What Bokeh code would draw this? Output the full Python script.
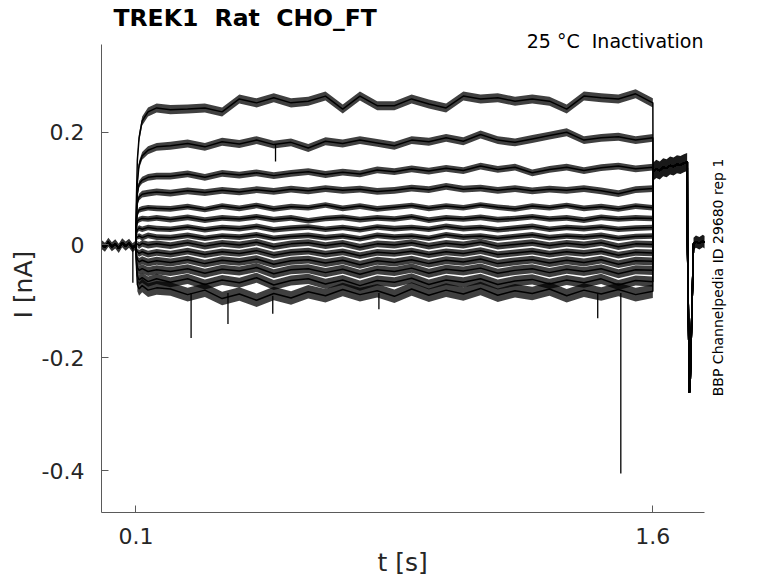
import numpy as np
from bokeh.plotting import figure
from bokeh.models import Label, FixedTicker, Range1d, Title
from bokeh.embed import file_html
from bokeh.resources import INLINE

# ---------------- data ----------------
# holding period before the pulse (all sweeps overlap)
base_t = [0.0, 0.01, 0.02, 0.03, 0.04, 0.05, 0.06, 0.07, 0.08, 0.09, 0.0995]
base_v = [0.001, -0.004, 0.005, -0.003, 0.002, -0.006, 0.004, -0.002, 0.003, -0.005, 0.0]
base_noise = 0.008

# pulse period sample times [s]
pulse_t = [0.1005, 0.104, 0.109, 0.118, 0.135, 0.16,
           0.2, 0.25, 0.3, 0.35, 0.4, 0.45, 0.5, 0.55, 0.6, 0.65, 0.7, 0.75,
           0.8, 0.85, 0.9, 0.95, 1.0, 1.05, 1.1, 1.15, 1.2, 1.25, 1.3, 1.35,
           1.4, 1.45, 1.5, 1.55, 1.6]

# current of each sweep during the pulse [nA]
sweep_01 = [0.06, 0.15, 0.19, 0.22, 0.236, 0.243,
            0.240, 0.241, 0.243, 0.236, 0.259, 0.252, 0.261, 0.252, 0.255, 0.264, 0.241, 0.264,
            0.247, 0.247, 0.259, 0.250, 0.243, 0.264, 0.259, 0.261, 0.255, 0.259, 0.255, 0.241,
            0.264, 0.261, 0.259, 0.268, 0.252]
sweep_02 = [0.04, 0.11, 0.142, 0.158, 0.168, 0.174,
            0.176, 0.180, 0.174, 0.183, 0.179, 0.186, 0.178, 0.182, 0.172, 0.184, 0.180, 0.186,
            0.181, 0.176, 0.186, 0.183, 0.190, 0.184, 0.196, 0.186, 0.182, 0.188, 0.194, 0.200,
            0.186, 0.190, 0.192, 0.186, 0.190]
sweep_03 = [0.03, 0.09, 0.108, 0.115, 0.120, 0.122,
            0.122, 0.126, 0.120, 0.127, 0.124, 0.128, 0.123, 0.127, 0.130, 0.125, 0.129, 0.126,
            0.133, 0.130, 0.135, 0.131, 0.136, 0.132, 0.140, 0.134, 0.138, 0.128, 0.134, 0.138,
            0.132, 0.137, 0.140, 0.135, 0.138]
sweep_04 = [0.03, 0.075, 0.085, 0.090, 0.092, 0.094,
            0.092, 0.096, 0.093, 0.097, 0.094, 0.098, 0.095, 0.099, 0.096, 0.100, 0.097, 0.099,
            0.095, 0.097, 0.101, 0.098, 0.104, 0.099, 0.101, 0.097, 0.100, 0.096, 0.099, 0.097,
            0.100, 0.096, 0.091, 0.098, 0.100]
sweep_05 = [0.03, 0.055, 0.062, 0.064, 0.066, 0.065,
            0.064, 0.068, 0.063, 0.069, 0.065, 0.070, 0.064, 0.068, 0.066, 0.071, 0.065, 0.069,
            0.064, 0.067, 0.070, 0.065, 0.069, 0.066, 0.071, 0.067, 0.064, 0.069, 0.066, 0.070,
            0.065, 0.068, 0.064, 0.069, 0.066]
sweep_06 = [0.02, 0.042, 0.045, 0.047, 0.046, 0.048,
            0.045, 0.049, 0.044, 0.048, 0.046, 0.050, 0.045, 0.048, 0.043, 0.047, 0.049, 0.045,
            0.048, 0.046, 0.050, 0.044, 0.048, 0.046, 0.049, 0.045, 0.047, 0.050, 0.046, 0.048,
            0.044, 0.049, 0.046, 0.048, 0.047]
sweep_07 = [0.015, 0.027, 0.030, 0.028, 0.031, 0.029,
            0.028, 0.032, 0.027, 0.031, 0.029, 0.033, 0.027, 0.030, 0.032, 0.028, 0.031, 0.027,
            0.032, 0.029, 0.031, 0.028, 0.033, 0.029, 0.031, 0.027, 0.030, 0.033, 0.028, 0.031,
            0.029, 0.032, 0.028, 0.030, 0.031]
sweep_08 = [0.01, 0.014, 0.016, 0.013, 0.017, 0.014,
            0.013, 0.017, 0.012, 0.016, 0.014, 0.018, 0.012, 0.015, 0.017, 0.013, 0.016, 0.011,
            0.017, 0.014, 0.016, 0.012, 0.018, 0.014, 0.016, 0.012, 0.015, 0.018, 0.013, 0.016,
            0.014, 0.017, 0.012, 0.015, 0.016]
sweep_09 = [0.0, 0.002, -0.001, 0.003, 0.0, 0.002,
            -0.001, 0.004, -0.002, 0.003, 0.000, 0.005, -0.003, 0.002, 0.004, -0.001, 0.003, -0.004,
            0.002, 0.000, 0.004, -0.002, 0.003, 0.000, 0.005, -0.002, 0.001, 0.004, -0.001, 0.003,
            0.000, 0.004, -0.003, 0.002, 0.001]
sweep_10 = [-0.005, -0.012, -0.015, -0.012, -0.016, -0.013,
            -0.016, -0.011, -0.017, -0.012, -0.015, -0.010, -0.018, -0.013, -0.011, -0.016, -0.012, -0.019,
            -0.013, -0.015, -0.011, -0.017, -0.012, -0.015, -0.010, -0.017, -0.014, -0.011, -0.016, -0.012,
            -0.015, -0.011, -0.018, -0.013, -0.014]
sweep_11 = [-0.01, -0.026, -0.030, -0.027, -0.031, -0.028,
            -0.031, -0.026, -0.033, -0.027, -0.030, -0.025, -0.034, -0.028, -0.026, -0.032, -0.027, -0.035,
            -0.028, -0.031, -0.026, -0.033, -0.027, -0.030, -0.025, -0.033, -0.029, -0.026, -0.032, -0.027,
            -0.031, -0.026, -0.034, -0.028, -0.029]
sweep_12 = [-0.015, -0.040, -0.045, -0.042, -0.047, -0.044,
            -0.047, -0.042, -0.050, -0.043, -0.046, -0.040, -0.051, -0.044, -0.042, -0.049, -0.043, -0.052,
            -0.044, -0.047, -0.041, -0.050, -0.043, -0.046, -0.041, -0.050, -0.045, -0.042, -0.049, -0.043,
            -0.047, -0.042, -0.051, -0.044, -0.045]
sweep_13 = [-0.02, -0.055, -0.062, -0.058, -0.065, -0.060,
            -0.066, -0.060, -0.070, -0.062, -0.067, -0.058, -0.071, -0.063, -0.060, -0.069, -0.062, -0.072,
            -0.063, -0.066, -0.059, -0.070, -0.062, -0.066, -0.060, -0.070, -0.064, -0.061, -0.069, -0.062,
            -0.067, -0.060, -0.071, -0.063, -0.065]
sweep_14 = [-0.025, -0.070, -0.078, -0.072, -0.080, -0.076,
            -0.078, -0.088, -0.080, -0.095, -0.087, -0.098, -0.086, -0.094, -0.083, -0.090, -0.079, -0.088,
            -0.081, -0.091, -0.078, -0.089, -0.080, -0.087, -0.077, -0.089, -0.081, -0.086, -0.078, -0.090,
            -0.080, -0.087, -0.079, -0.088, -0.082]
sweeps = [sweep_01, sweep_02, sweep_03, sweep_04, sweep_05, sweep_06, sweep_07,
          sweep_08, sweep_09, sweep_10, sweep_11, sweep_12, sweep_13, sweep_14]
# half-width of the noise band of each sweep [nA]
sweep_noise = [0.008, 0.007, 0.006, 0.006, 0.005, 0.005, 0.005,
               0.005, 0.006, 0.006, 0.007, 0.008, 0.009, 0.012]

# test step after the pulse (all sweeps overlap)
tail_t = [1.6005, 1.61, 1.62, 1.63, 1.64, 1.65, 1.66, 1.67, 1.68, 1.69, 1.6995]
tail_v = [0.130, 0.135, 0.132, 0.138, 0.136, 0.141, 0.139, 0.143, 0.142, 0.145, 0.147]
tail_noise = 0.016

# return to holding with capacitive transient
post_t = [1.700, 1.7005, 1.706, 1.708, 1.718, 1.725, 1.735, 1.745, 1.75]
post_v = [0.147, 0.004, -0.262, -0.252, 0.002, 0.006, 0.003, 0.007, 0.005]
post_noise = 0.011

# brief spikes (time, from, to) [s, nA, nA]
spike_t = [0.091, 0.260, 0.367, 0.497, 0.505, 0.805, 1.440, 1.507]
spike_from = [0.0, -0.085, -0.085, -0.090, 0.178, -0.085, -0.085, -0.085]
spike_to = [-0.067, -0.165, -0.140, -0.122, 0.148, -0.114, -0.130, -0.405]

x_ticks = [0.1, 1.6]
x_tick_labels = ["0.1", "1.6"]
y_ticks = [-0.4, -0.2, 0.0, 0.2]
y_tick_labels = ["-0.4", "-0.2", "0", "0.2"]
x_extent = (0.0, 1.75)
y_extent = (-0.4743, 0.3555)

title_text = "TREK1\u00a0 Rat\u00a0 CHO_FT"
subtitle_text = "25 °C\u00a0 Inactivation"
side_text = "BBP Channelpedia ID 29680 rep 1"
x_label = "t [s]"
y_label = "I [nA]"

# ---------------- figure ----------------
FONT = "DejaVu Sans"
TXT = "#262626"
AX = "#5a5a5a"

# frame spans up to the top/right edges so the texts there can sit inside it;
# the axis lines are limited to the data extent with `bounds`
p = figure(width=778, height=583,
           x_range=Range1d(0.0, 1.9646), y_range=Range1d(-0.4743, 0.4335),
           output_backend="svg", toolbar_location=None,
           min_border_left=101, min_border_right=0,
           min_border_top=0, min_border_bottom=71)
p.title.visible = False
p.outline_line_color = None
p.background_fill_color = "white"
p.border_fill_color = "white"
p.xgrid.visible = False
p.ygrid.visible = False

for ax, ticks, labels, ext in ((p.xaxis[0], x_ticks, x_tick_labels, x_extent),
                               (p.yaxis[0], y_ticks, y_tick_labels, y_extent)):
    ax.ticker = FixedTicker(ticks=ticks)
    ax.major_label_overrides = {t: l for t, l in zip(ticks, labels)}
    ax.bounds = ext
    ax.minor_tick_line_color = None
    ax.major_tick_in = 7
    ax.major_tick_out = 0
    ax.axis_line_color = AX
    ax.major_tick_line_color = AX
    ax.major_label_text_font = FONT
    ax.major_label_text_font_size = "22px"
    ax.major_label_text_color = TXT
p.xaxis[0].major_label_standoff = 15
p.yaxis[0].major_label_standoff = 17

# axis titles placed along the axes (centred on the data extent, not the frame)
p.add_layout(Title(text=x_label, align="left", offset=276, standoff=0,
                   vertical_align="middle", text_font=FONT, text_font_size="25px",
                   text_font_style="normal", text_color=TXT), "below")
p.add_layout(Title(text=y_label, align="left", offset=194, standoff=0,
                   vertical_align="middle", text_font=FONT, text_font_size="25px",
                   text_font_style="normal", text_color=TXT), "left")

ink = "black"
bt = np.array(base_t); bv = np.array(base_v)
p.varea(x=bt, y1=bv - base_noise, y2=bv + base_noise, fill_color=ink, fill_alpha=0.8)
tt = np.array(tail_t); tv = np.array(tail_v)
p.varea(x=tt, y1=tv - tail_noise, y2=tv + tail_noise, fill_color=ink, fill_alpha=0.9)
qt = np.array(post_t)[4:]; qv = np.array(post_v)[4:]
p.varea(x=qt, y1=qv - post_noise, y2=qv + post_noise, fill_color=ink, fill_alpha=0.9)

ptime = np.array(pulse_t)
for s, nz in zip(sweeps, sweep_noise):
    sv = np.array(s)
    p.varea(x=ptime[1:], y1=sv[1:] - nz, y2=sv[1:] + nz, fill_color=ink, fill_alpha=0.75)

for s in sweeps:
    xs = list(base_t) + list(pulse_t) + list(tail_t) + list(post_t)
    ys = list(base_v) + list(s) + list(tail_v) + list(post_v)
    p.line(xs, ys, line_color=ink, line_width=1.5)

p.segment(x0=spike_t, y0=spike_from, x1=spike_t, y1=spike_to,
          line_color=ink, line_width=1.3)

# ---------------- texts ----------------
p.add_layout(Label(x=0.0348, y=0.4016, text=title_text, text_font=FONT,
                   text_font_size="23.5px", text_font_style="bold",
                   text_color="black", text_align="left", text_baseline="middle"))
p.add_layout(Label(x=1.7469, y=0.3617, text=subtitle_text, text_font=FONT,
                   text_font_size="19px", text_color="black",
                   text_align="right", text_baseline="middle"))
p.add_layout(Label(x=1.7876, y=-0.0576, text=side_text, text_font=FONT,
                   text_font_size="14px", text_color="black", angle=np.pi / 2,
                   text_align="center", text_baseline="middle"))

open("out.html", "w").write(file_html(p, INLINE))
